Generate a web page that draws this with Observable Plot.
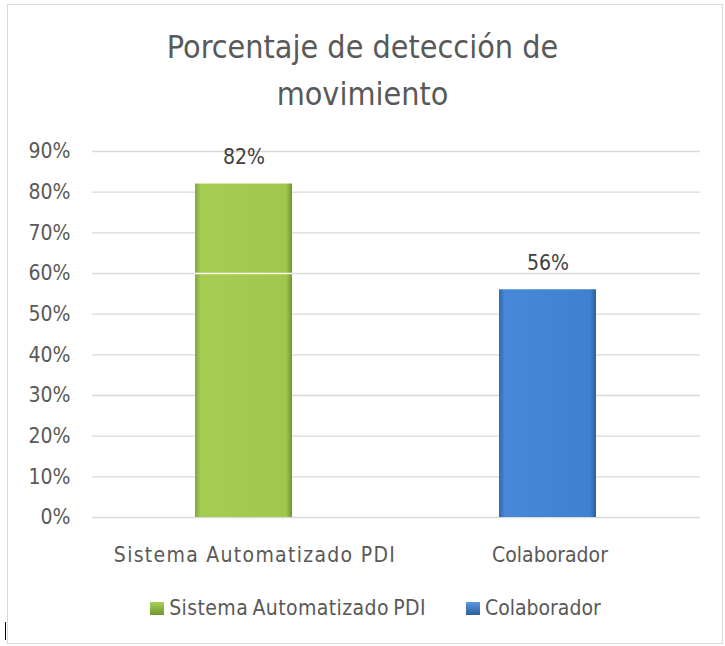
<!DOCTYPE html>
<html>
<head>
<meta charset="utf-8">
<script src="https://cdn.jsdelivr.net/npm/d3@7"></script>
<script src="https://cdn.jsdelivr.net/npm/@observablehq/plot@0.6"></script>
<style>
  body { margin: 0; background: #fff; font-family: "DejaVu Sans Condensed", "DejaVu Sans", sans-serif; color: #595959; }
  #wrap { position: relative; width: 725px; height: 646px; overflow: hidden; }
  #frame { position: absolute; left: 7px; top: 4px; width: 714px; height: 638px; border: 1px solid #d9d9d9; }
  #title { position: absolute; left: 0; width: 725px; top: 24px; text-align: center; font-size: 32px; line-height: 47px; color: #595959; }
  #chart { position: absolute; left: 0; top: 120px; }
  #legend { position: absolute; top: 596px; left: 13px; width: 725px; display: flex; justify-content: center; gap: 40px; font-size: 21px; color: #595959; word-spacing: -2px; }
  .item { display: flex; align-items: center; gap: 5px; }
  .item.first span:last-child { letter-spacing: 0.4px; }
  .sw { width: 14px; height: 13px; display: inline-block; }
  #cursor { position: absolute; left: 5px; top: 622px; width: 1px; height: 18px; background: #000; }
</style>
</head>
<body>
<svg width="0" height="0" style="position:absolute">
  <defs>
    <linearGradient id="gGreen" x1="0" x2="1" y1="0" y2="0">
      <stop offset="0" stop-color="#7fa83a"/>
      <stop offset="0.06" stop-color="#a5cd52"/>
      <stop offset="0.94" stop-color="#a0c84c"/>
      <stop offset="1" stop-color="#6f9530"/>
    </linearGradient>
    <linearGradient id="gBlue" x1="0" x2="1" y1="0" y2="0">
      <stop offset="0" stop-color="#3468ad"/>
      <stop offset="0.06" stop-color="#4788d8"/>
      <stop offset="0.94" stop-color="#3f80cf"/>
      <stop offset="1" stop-color="#2b5f9f"/>
    </linearGradient>
  </defs>
</svg>
<div id="wrap">
  <div id="frame"></div>
  <div id="title">Porcentaje de detección de<br>movimiento</div>
  <div id="chart"></div>
  <div id="legend"></div>
  <div id="cursor"></div>
</div>
<script>
const categories = ["Sistema Automatizado PDI", "Colaborador"];
const values = [82, 56];
const fills = ["url(#gGreen)", "url(#gBlue)"];
const swatchColors = ["linear-gradient(#a9d25a, #6f9530)", "linear-gradient(#5a98e0, #2b5f9f)"];
const yTicks = [0, 10, 20, 30, 40, 50, 60, 70, 80, 90];

const data = categories.map((c, i) => ({cat: c, value: values[i], fill: fills[i]}));

const chart = Plot.plot({
  width: 725,
  height: 480,
  marginTop: 31,
  marginBottom: 83,
  marginLeft: 92,
  marginRight: 25,
  style: {fontFamily: '"DejaVu Sans Condensed", "DejaVu Sans", sans-serif', color: "#595959", background: "transparent"},
  x: {domain: categories, paddingInner: 0.68, paddingOuter: 0.34, label: null},
  y: {domain: [0, 90], label: null},
  color: {type: "identity"},
  marks: [
    Plot.ruleY(yTicks, {stroke: "#d9d9d9", strokeWidth: 1.3}),
    Plot.barY(data, {x: "cat", y: "value", fill: "fill"}),
    Plot.tickY([{cat: categories[0], v: 60}], {x: "cat", y: "v", stroke: "#ffffff", strokeWidth: 1.5}),
    Plot.text(data, {x: "cat", y: "value", text: d => d.value + "%", dy: -27, fontSize: 21, fill: "#404040"}),
    Plot.axisY(yTicks, {tickSize: 0, tickPadding: 22, fontSize: 21, tickFormat: d => d + "%", fill: "#595959"}),
    Plot.axisX([categories[0]], {tickSize: 0, tickPadding: 30, fontSize: 21, dx: 11, fill: "#595959"}),
    Plot.axisX([categories[1]], {tickSize: 0, tickPadding: 30, fontSize: 21, dx: 2, fill: "#595959"})
  ]
});
document.getElementById("chart").appendChild(chart);
d3.select(chart).selectAll("text").filter(function() { return this.textContent === categories[0]; })
  .style("letter-spacing", "1.3px");

const legend = document.getElementById("legend");
categories.forEach((c, i) => {
  const it = document.createElement("div");
  it.className = i === 0 ? "item first" : "item";
  const sw = document.createElement("span");
  sw.className = "sw";
  sw.style.background = swatchColors[i];
  it.appendChild(sw);
  const t = document.createElement("span");
  t.textContent = c;
  it.appendChild(t);
  legend.appendChild(it);
});
</script>
</body>
</html>
